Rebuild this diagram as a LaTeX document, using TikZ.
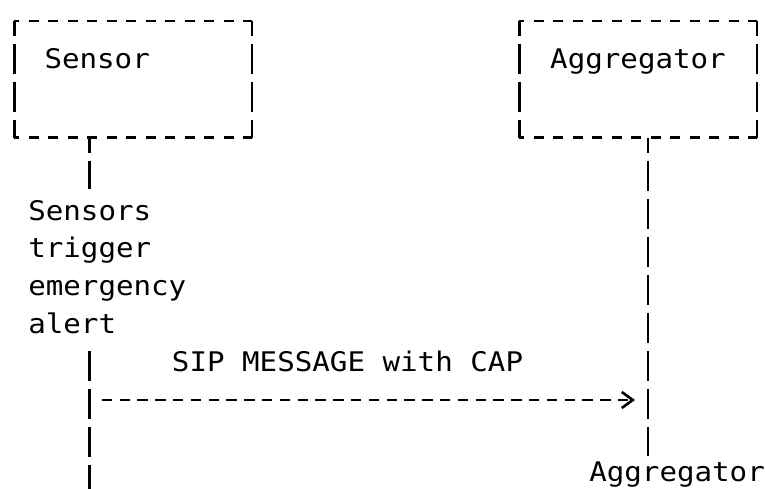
\documentclass[tikz,border=0pt]{standalone}
\usepackage{fontspec}
\setmonofont[FakeStretch=1.08]{DejaVu Sans Mono}
\usetikzlibrary{arrows.meta,positioning}

\begin{document}
\begin{tikzpicture}[x=1pt,y=1pt,on grid,line width=2.6pt,
				every node/.style={font=\ttfamily\fontsize{27}{37.8}\selectfont, inner sep=0pt},
				box/.style={minimum width=235pt, minimum height=114pt, text height=20pt, text depth=40.6pt},
				note/.style={anchor=base west},
				hrule/.style={dash pattern=on 10pt off 9.5pt, dash phase=5pt},
				vrule/.style={dash pattern=on 30pt off 8pt, dash phase=15pt},
				life/.style={vrule},
				msg/.style={dash pattern=on 10.5pt off 7.3pt, shorten <=12.2pt, shorten >=13pt,
					-{Straight Barb[length=11pt,width=16pt]}}
			]
			\fill[white] (0,0) rectangle (765,-489);
			\useasboundingbox (0,0) rectangle (765,-489);
			
			\node[box, text width=177pt, align=left] (sensor) at (133,-79.3) {Sensor};
			\node[box] (aggregator) [right=505pt of sensor] {Aggregator};
			
			\foreach \b in {sensor,aggregator} {
				\draw[hrule] (\b.north west) -- (\b.north east);
				\draw[hrule] (\b.south west) -- (\b.south east);
				\draw[vrule] (\b.north west) -- (\b.south west);
				\draw[vrule] (\b.north east) -- (\b.south east);
			}
			
			\coordinate[left=43.5pt of sensor.south] (s_top);
			\coordinate[right=10pt of aggregator.south] (a_top);
			
			\node[note, text width=200pt, align=left] (alert) at (27,-220) {Sensors\\trigger\\emergency\\alert};
			\node[note] (aggnote) at (588,-481) {Aggregator};
			
			\coordinate (s_msg) at (89.5,-400);
			\coordinate (a_msg) at (s_msg -| a_top);
			\coordinate (s_end) at (89.5,-495);
			
			\draw[life, shorten >=10pt] (s_top) -- (alert.north -| s_top);
			\draw[life, dash phase=0pt, shorten <=16pt] (alert.south -| s_top) -- (s_end);
			\draw[life, shorten >=4pt] (a_top) -- (aggnote.north -| a_top);
			
			\draw[msg] (s_msg) -- node[pos=0.462, anchor=base, yshift=28.3pt] (msglbl) {SIP MESSAGE with CAP} (a_msg);
		\end{tikzpicture}
\end{document}
